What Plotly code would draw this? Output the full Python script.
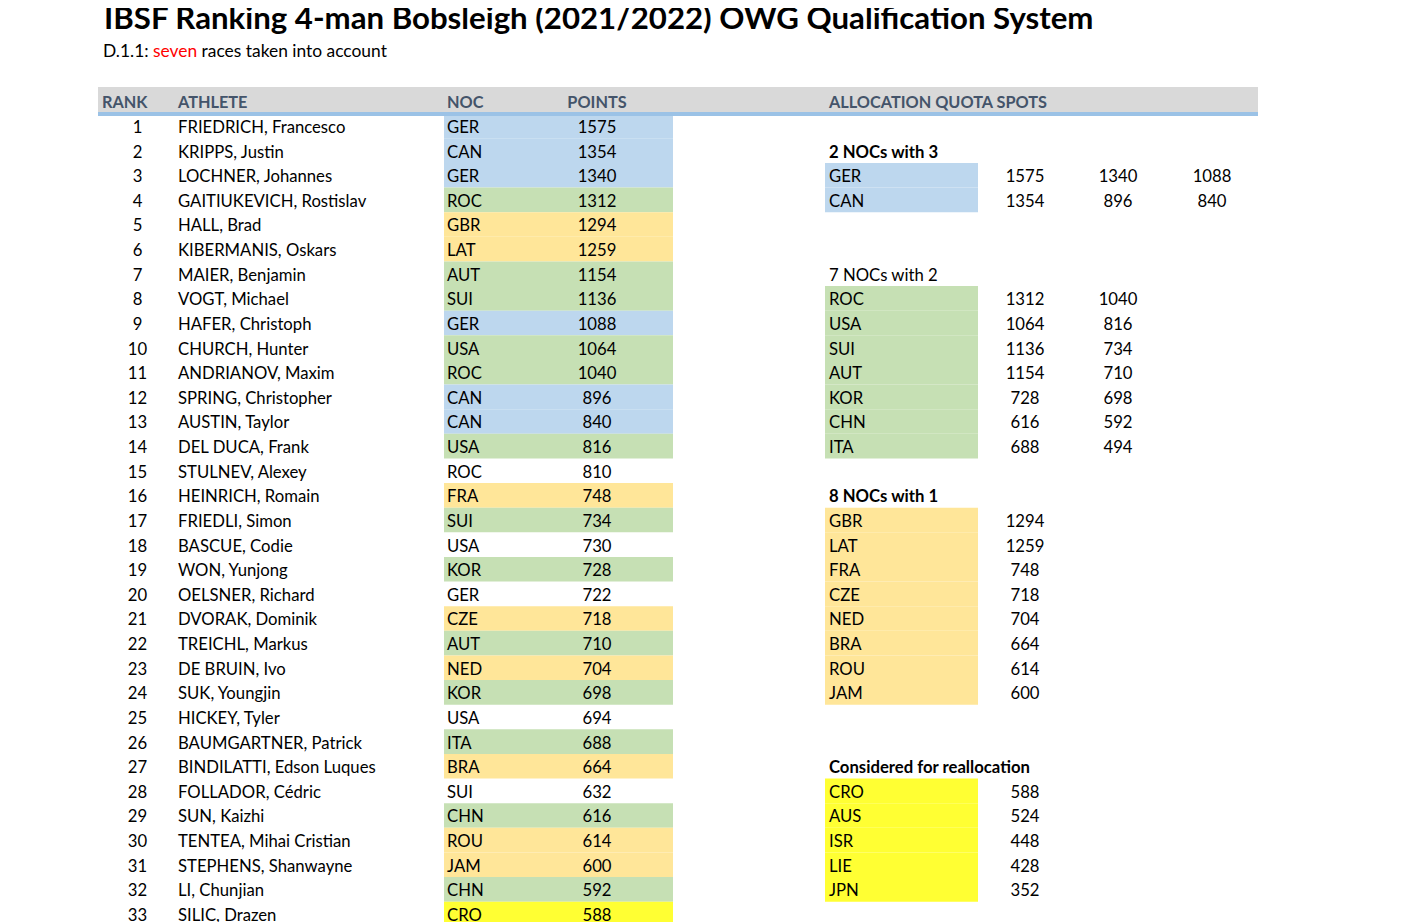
import plotly.graph_objects as go

# ranking table
ranks = list(range(1, 34))
athletes = [
    "FRIEDRICH, Francesco", "KRIPPS, Justin", "LOCHNER, Johannes", "GAITIUKEVICH, Rostislav",
    "HALL, Brad", "KIBERMANIS, Oskars", "MAIER, Benjamin", "VOGT, Michael",
    "HAFER, Christoph", "CHURCH, Hunter", "ANDRIANOV, Maxim", "SPRING, Christopher",
    "AUSTIN, Taylor", "DEL DUCA, Frank", "STULNEV, Alexey", "HEINRICH, Romain",
    "FRIEDLI, Simon", "BASCUE, Codie", "WON, Yunjong", "OELSNER, Richard",
    "DVORAK, Dominik", "TREICHL, Markus", "DE BRUIN, Ivo", "SUK, Youngjin",
    "HICKEY, Tyler", "BAUMGARTNER, Patrick", "BINDILATTI, Edson Luques", "FOLLADOR, Cédric",
    "SUN, Kaizhi", "TENTEA, Mihai Cristian", "STEPHENS, Shanwayne", "LI, Chunjian",
    "SILIC, Drazen",
]
nocs = [
    "GER", "CAN", "GER", "ROC", "GBR", "LAT", "AUT", "SUI", "GER", "USA", "ROC", "CAN",
    "CAN", "USA", "ROC", "FRA", "SUI", "USA", "KOR", "GER", "CZE", "AUT", "NED", "KOR",
    "USA", "ITA", "BRA", "SUI", "CHN", "ROU", "JAM", "CHN", "CRO",
]
points = [
    1575, 1354, 1340, 1312, 1294, 1259, 1154, 1136, 1088, 1064, 1040, 896,
    840, 816, 810, 748, 734, 730, 728, 722, 718, 710, 704, 698,
    694, 688, 664, 632, 616, 614, 600, 592, 588,
]
# quota group of each row: 3 / 2 / 1 spots, "r" reallocation, "" none
quota = [
    "3", "3", "3", "2", "1", "1", "2", "2", "3", "2", "2", "3",
    "3", "2", "", "1", "2", "", "2", "", "1", "2", "1", "2",
    "", "2", "1", "", "2", "1", "1", "2", "r",
]

# allocation quota spots
nocs_3 = ["GER", "CAN"]
pts_3 = [[1575, 1340, 1088], [1354, 896, 840]]
nocs_2 = ["ROC", "USA", "SUI", "AUT", "KOR", "CHN", "ITA"]
pts_2 = [[1312, 1040], [1064, 816], [1136, 734], [1154, 710], [728, 698], [616, 592], [688, 494]]
nocs_1 = ["GBR", "LAT", "FRA", "CZE", "NED", "BRA", "ROU", "JAM"]
pts_1 = [1294, 1259, 748, 718, 704, 664, 614, 600]
nocs_r = ["CRO", "AUS", "ISR", "LIE", "JPN"]
pts_r = [588, 524, 448, 428, 352]

COLORS = {"3": "#BDD7EE", "2": "#C6E0B4", "1": "#FFE699", "r": "#FFFF33", "": "rgba(0,0,0,0)"}
FONT = "Lato, 'Open Sans', sans-serif"
TXT = dict(family=FONT, size=16.7, color="#000000")
HDR = dict(family=FONT, size=16.3, color="#44546A", weight="bold")
DY = 0.11  # plotly sits text a little high; nudge it onto the row centre

fig = go.Figure()


def fill(rows, color, x0, x1):
    fig.add_trace(go.Bar(
        y=rows, x=[x1 - x0] * len(rows), base=x0, orientation="h", width=1,
        marker=dict(color=color, line=dict(width=0)), hoverinfo="skip", showlegend=False,
    ))


def text(xpos, rows, labels, pos, font=TXT):
    fig.add_trace(go.Scatter(
        x=[xpos] * len(rows), y=[r + DY for r in rows], text=[str(v) for v in labels],
        mode="text", textposition=pos, textfont=font, hoverinfo="skip", showlegend=False,
    ))


# left table fills
fill(ranks, [COLORS[q] for q in quota], 444, 673)

# right side row numbers
r3 = [3, 4]
r2 = list(range(8, 15))
r1 = list(range(17, 25))
rr = list(range(28, 33))
fill(r3, COLORS["3"], 825, 978)
fill(r2, COLORS["2"], 825, 978)
fill(r1, COLORS["1"], 825, 978)
fill(rr, COLORS["r"], 825, 978)

# left table text
text(137.5, ranks, ranks, "middle center")
text(178, ranks, athletes, "middle right")
text(447, ranks, nocs, "middle right")
text(597, ranks, points, "middle center")

# right side text
bold = dict(TXT, weight="bold")
text(829, [2], ["2 NOCs with 3"], "middle right", bold)
text(829, [7], ["7 NOCs with 2"], "middle right")
text(829, [16], ["8 NOCs with 1"], "middle right", bold)
text(829, [27], ["Considered for reallocation"], "middle right", bold)

text(829, r3, nocs_3, "middle right")
text(829, r2, nocs_2, "middle right")
text(829, r1, nocs_1, "middle right")
text(829, rr, nocs_r, "middle right")

for i, xc in enumerate([1025, 1118, 1212]):
    text(xc, r3, [p[i] for p in pts_3], "middle center")
for i, xc in enumerate([1025, 1118]):
    text(xc, r2, [p[i] for p in pts_2], "middle center")
text(1025, r1, pts_1, "middle center")
text(1025, rr, pts_r, "middle center")

# header row
text(102, [0], ["RANK"], "middle right", HDR)
text(178, [0], ["ATHLETE"], "middle right", HDR)
text(447, [0], ["NOC"], "middle right", HDR)
text(597, [0], ["POINTS"], "middle center", HDR)
text(829, [0], ["ALLOCATION QUOTA SPOTS"], "middle right", HDR)

fig.add_shape(type="rect", x0=98, x1=1258, y0=-0.58, y1=0.43,
              fillcolor="#D9D9D9", line_width=0, layer="below")
fig.add_shape(type="rect", x0=98, x1=1258, y0=0.43, y1=0.59,
              fillcolor="#9BC2E6", line_width=0, layer="above")

# title
fig.add_annotation(x=102, y=-3.43, xanchor="left", yanchor="middle", showarrow=False,
                   text="<b>IBSF Ranking 4-man Bobsleigh (2021/2022) OWG Qualification System</b>",
                   font=dict(family=FONT, size=31.2, color="#000000"))
fig.add_annotation(x=101, y=-2.08, xanchor="left", yanchor="middle", showarrow=False,
                   text="D.1.1: <span style='color:#FF0000'>seven</span> races taken into account",
                   font=dict(TXT, size=17.4))

# page body has an 8px margin, so the axes start 8px into the screenshot
fig.update_layout(
    width=1424, height=922,
    margin=dict(l=0, r=0, t=0, b=0),
    paper_bgcolor="white", plot_bgcolor="white",
    barmode="overlay",
    xaxis=dict(range=[8, 1432], visible=False, fixedrange=True),
    yaxis=dict(range=[33.65, -3.792], visible=False, fixedrange=True),
)

fig.write_html("out.html")
